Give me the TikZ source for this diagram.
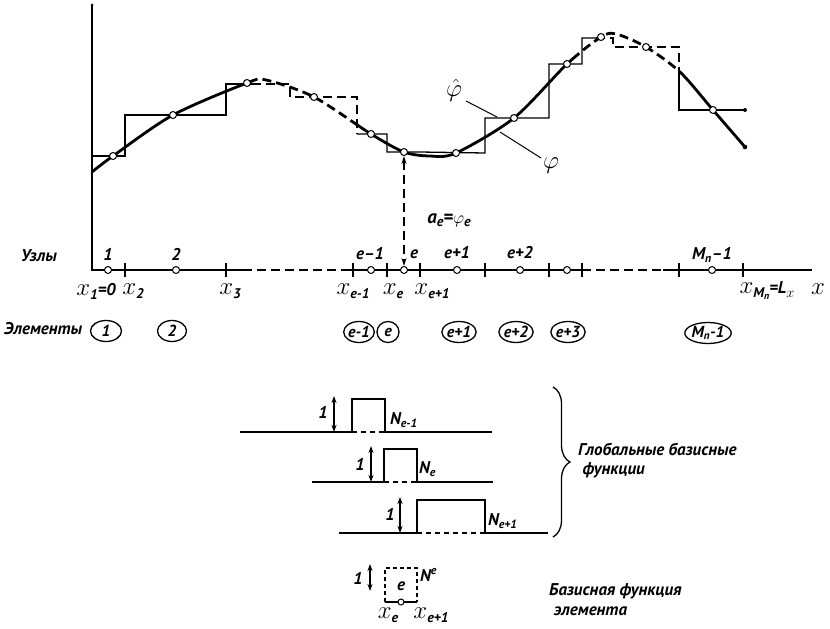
\documentclass[tikz,border=0pt]{standalone}
\usepackage{amsmath}
\usepackage{fontspec}
\newfontfamily\rusfont{PT Sans}
\usetikzlibrary{arrows.meta,shapes.geometric,decorations.pathreplacing}
\newcommand{\rus}{\fontsize{17}{19}\selectfont\rusfont\bfseries\itshape}
\newcommand{\rusel}{\fontsize{16}{18}\selectfont\rusfont\bfseries\itshape}
\newcommand{\xfont}{\fontsize{24}{26}\selectfont\rusfont\bfseries\itshape}
\newcommand{\subsz}{\fontsize{14}{15}\selectfont}
\newcommand{\xs}[1]{$x$\raisebox{-4pt}{\subsz#1}}
\newcommand{\phicurve}{plot[smooth] coordinates {(92,172) (113,156) (173,115) (247,83) (266,80) (314,97) (371,134) (404,152) (430,156) (456,153) (514,118) (567,64) (601,37) (616,34) (646,47) (680,72) (713,110) (745,147)}}

\begin{document}
\begin{tikzpicture}[
    x=1pt, y=-1pt,
    every node/.style={font=\rus, inner sep=1pt},
    axis/.style={line width=1.6pt},
    curve/.style={line width=2.8pt},
    stepf/.style={line width=1.3pt},
    dsh/.style={dash pattern=on 9pt off 5pt},
    fine/.style={dash pattern=on 5pt off 4pt},
    nodept/.style={circle, draw, fill=white, line width=1pt, minimum size=7pt, inner sep=0pt},
    elem/.style={ellipse, draw, line width=1.3pt, inner sep=0pt, minimum height=21pt, minimum width=22pt, font=\rusel},
    xlab/.style={font=\xfont},
    greek/.style={font=\fontsize{28}{30}\selectfont},
    pulse/.style={line width=1.4pt},
    onearr/.style={{Stealth[length=7pt,width=5pt]}-{Stealth[length=7pt,width=5pt]}, line width=1.2pt},
    leader/.style={line width=1pt},
]
\useasboundingbox (0,0) rectangle (830,629);

% === AXES ===
\coordinate (ytop) at (92,5);
\coordinate (o) at (92,270);
\coordinate (xa) at (243,270);
\coordinate (xb) at (343,270);
\coordinate (xc) at (582,270);
\coordinate (xd) at (663,270);
\coordinate (xend) at (812,270);
\draw[axis] (ytop) -- (o) -- (xa);
\draw[axis, dsh] (xa) -- (xb);
\draw[axis] (xb) -- (xc);
\draw[axis, dsh] (xc) -- (xd);
\draw[axis] (xd) -- (xend);
\fill (ytop) circle (1.5pt);

% ticks
\draw[axis] (125,263) -- (125,277) (226,263) -- (226,277) (353,263) -- (353,277)
  (387,263) -- (387,277) (420,263) -- (420,277) (485,263) -- (485,277)
  (549,263) -- (549,277) (582,263) -- (582,277) (679,263) -- (679,277)
  (743,263) -- (743,277);

% === STEP FUNCTION ===
\draw[stepf] (92,172) -- (92,156) -- (125,156) -- (125,115) -- (226,115) -- (226,84) -- (252,84);
\draw[stepf, dsh] (252,84) -- (290,84) -- (290,97) -- (357,97) -- (357,134);
\draw[stepf] (357,134) -- (387,134) -- (387,152) -- (420,152) -- (485,153) -- (485,118)
  -- (549,118) -- (549,64) -- (582,64) -- (582,38) -- (596,38);
\draw[stepf, dsh] (596,38) -- (613,38) -- (613,47) -- (679,47) -- (679,72);
\draw[stepf] (679,72) -- (679,110) -- (745,110);
\fill (745,110) circle (2pt);

% === CURVE ===
\begin{scope}
  \clip (80,0) rectangle (252,300) (358,0) rectangle (578,300) (680,0) rectangle (760,300);
  \draw[curve] \phicurve;
\end{scope}
\begin{scope}
  \clip (252,0) rectangle (358,300) (578,0) rectangle (680,300);
  \draw[curve, dsh] \phicurve;
\end{scope}
\fill (745,147) circle (2.3pt);

% points on the curve
\node[nodept] (c1) at (113,156) {};
\node[nodept] (c2) at (173,115) {};
\node[nodept] (c3) at (247,83) {};
\node[nodept] (c4) at (314,97) {};
\node[nodept] (c5) at (371,134) {};
\node[nodept] (c6) at (404,152) {};
\node[nodept] (c7) at (456,153) {};
\node[nodept] (c8) at (514,118) {};
\node[nodept] (c9) at (567,64) {};
\node[nodept] (c10) at (601,37) {};
\node[nodept] (c11) at (646,47) {};
\node[nodept] (c12) at (713,110) {};

% nodes on the axis
\node[nodept] (n1) at (108,270) {};
\node[nodept] (n2) at (176,270) {};
\node[nodept] (n3) at (371,270) {};
\node[nodept] (n4) at (404,270) {};
\node[nodept] (n5) at (457,270) {};
\node[nodept] (n6) at (520,270) {};
\node[nodept] (n7) at (567,270) {};
\node[nodept] (n8) at (712,270) {};

% a_e = phi_e
\draw[dsh, line width=1.2pt, {Stealth[length=8pt,width=5pt]}-{Stealth[length=8pt,width=5pt]}] (c6) -- (n4);
\node[font=\fontsize{19}{21}\selectfont\rusfont\bfseries\itshape] (ae) at (449,220) {a\raisebox{-3pt}{\subsz e}=$\varphi$\raisebox{-3pt}{\subsz e}};

% phi labels
\node[greek] (phihat) at (454,90) {$\hat{\varphi}$};
\coordinate (sh) at (497,117);
\draw[leader] (466,101) -- (sh);
\node[greek] (phi) at (551,166) {$\varphi$};
\coordinate (cv) at (500,132);
\draw[leader] (cv) -- (541,158);

% node numbers
\node[anchor=west] (uzly) at (20,256) {Узлы};
\node (l1) at (108,254) {1};
\node (l2) at (176,254) {2};
\node (l3) at (370,254) {e–1};
\node (l4) at (414,254) {e};
\node (l5) at (457,253) {e+1};
\node (l6) at (520,253) {e+2};
\node (l8) at (712,255) {M\textsubscript{п}–1};

% coordinate labels
\node[xlab] (x1) at (96,291) {\xs{1}{\rus=0}};
\node[xlab] (x2) at (133,291) {\xs{2}};
\node[xlab] (x3) at (230,291) {\xs{3}};
\node[xlab] (xm1) at (353,291) {\xs{e-1}};
\node[xlab] (xe) at (393,291) {\xs{e}};
\node[xlab] (xp1) at (432,291) {\xs{e+1}};
\node[xlab] (xml) at (767,291) {\xs{M\raisebox{-2pt}{\fontsize{10}{11}\selectfont п}}{\rus=L}\raisebox{-4pt}{\subsz$x$}};
\node[xlab] (xx) at (818,289) {$x$};

% elements
\node[anchor=west] (elems) at (3,329) {Элементы};
\node[elem, minimum width=31pt] (e1) at (106,331) {1};
\node[elem, minimum width=29pt] (e2) at (172,331) {2};
\node[elem] (e3) at (359,332) {e-1};
\node[elem] (e4) at (388,332) {e};
\node[elem] (e5) at (459,332) {e+1};
\node[elem] (e6) at (516,332) {e+2};
\node[elem] (e7) at (568,332) {e+3};
\node[elem] (e8) at (708,333) {M\textsubscript{п}-1};

% === GLOBAL BASIS FUNCTIONS ===
% N_{e-1}
\draw[pulse] (240,432) -- (352,432) -- (352,399) -- (385,399) -- (385,432) -- (492,432);
\draw[pulse, fine] (352,432) -- (385,432);
\coordinate (a1b) at (334,432);
\coordinate (a1t) at (334,396);
\draw[onearr] (a1b) -- (a1t);
\node (one1) at (323,412) {1};
\node[anchor=west] (ne1) at (389,420) {N\textsubscript{e-1}};

% N_e
\draw[pulse] (312,482) -- (384,482) -- (384,449) -- (417,449) -- (417,482) -- (493,482);
\draw[pulse, fine] (384,482) -- (417,482);
\coordinate (a2b) at (371,482);
\coordinate (a2t) at (371,446);
\draw[onearr] (a2b) -- (a2t);
\node (one2) at (360,464) {1};
\node[anchor=west] (ne2) at (418,469) {N\textsubscript{e}};

% N_{e+1}
\draw[pulse] (339,533) -- (417,533) -- (417,500) -- (485,500) -- (485,533) -- (548,533);
\draw[pulse, fine] (417,533) -- (485,533);
\coordinate (a3b) at (400,533);
\coordinate (a3t) at (400,497);
\draw[onearr] (a3b) -- (a3t);
\node (one3) at (390,514) {1};
\node[anchor=west] (ne3) at (487,521) {N\textsubscript{e+1}};

% brace
\coordinate (brt) at (553,387);
\coordinate (brb) at (553,537);
\draw[line width=1.3pt, decorate, decoration={brace, amplitude=17pt}] (brt) -- (brb);
\node[anchor=west, align=left] (glob) at (577,461) {Глобальные базисные\\\ функции};

% === ELEMENT BASIS FUNCTION ===
\draw[pulse, dash pattern=on 4pt off 3pt] (385,602) -- (385,568) -- (417,568) -- (417,602);
\draw[pulse] (385,602) -- (417,602);
\node[nodept, minimum size=6pt] (nel) at (401,602) {};
\node (elab) at (401,586) {e};
\coordinate (a4b) at (370,591);
\coordinate (a4t) at (370,564);
\draw[onearr] (a4b) -- (a4t);
\node (one4) at (358,578) {1};
\node[anchor=west] (nup) at (419,575) {N\textsuperscript{e}};
\node[xlab] (xel) at (388,615) {\xs{e}};
\node[xlab] (xer) at (431,615) {\xs{e+1}};
\node[anchor=west] (bas1) at (548,591) {Базисная функция};
\node[anchor=west] (bas2) at (553,611) {элемента};

\end{tikzpicture}
\end{document}
